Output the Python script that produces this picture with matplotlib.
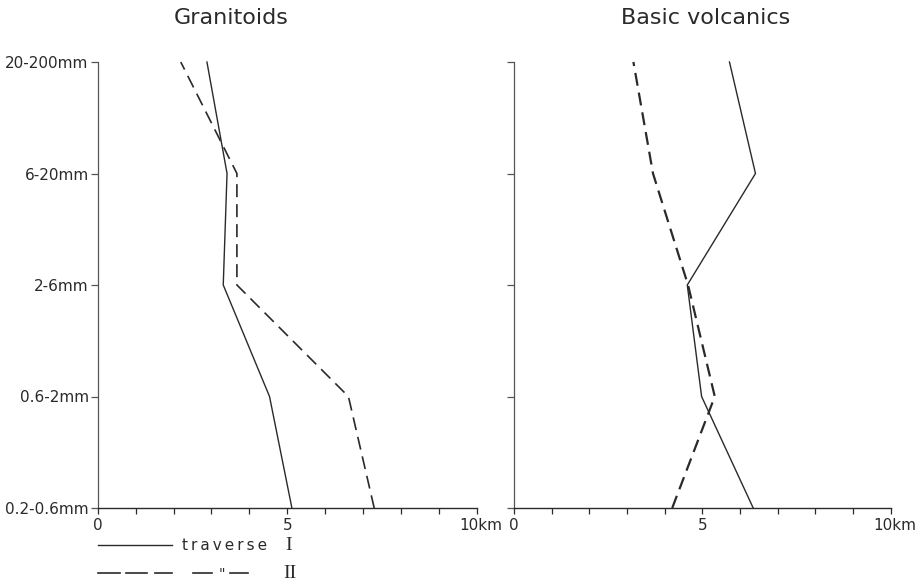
import matplotlib
matplotlib.use("Agg")
import matplotlib.pyplot as plt
from matplotlib.lines import Line2D

# grain-size classes, bottom to top
size_classes = ["0.2-0.6mm", "0.6-2mm", "2-6mm", "6-20mm", "20-200mm"]
levels = list(range(len(size_classes)))

# distance of transport (km) for each size class
granitoids_trav1 = [5.12, 4.53, 3.31, 3.41, 2.88]
granitoids_trav2 = [7.29, 6.61, 3.67, 3.67, 2.19]
volcanics_trav1 = [6.35, 4.98, 4.60, 6.41, 5.72]
volcanics_trav2 = [4.20, 5.33, 4.62, 3.69, 3.17]

panel_titles = ["Granitoids", "Basic volcanics"]

ink = "#2a2a2a"
plt.rcParams["font.family"] = ["DejaVu Sans"]

W, H = 924, 582
fig = plt.figure(figsize=(W / 100, H / 100), dpi=100)
fig.patch.set_facecolor("white")


def fx(px):
    return px / W


def fy(py):
    return 1 - py / H


axes_px = [(97.7, 477.0), (514.0, 890.7)]
top_px, bot_px = 62.0, 508.0

panels = [
    (granitoids_trav1, granitoids_trav2, 1.0, 1.2),
    (volcanics_trav1, volcanics_trav2, 1.0, 1.6),
]

for i, ((x0, x1), (s1, s2, lw1, lw2)) in enumerate(zip(axes_px, panels)):
    ax = fig.add_axes([fx(x0), fy(bot_px), fx(x1 - x0), (bot_px - top_px) / H])
    ax.set_xlim(0, 10)
    ax.set_ylim(0, len(size_classes) - 1)
    for side in ("top", "right"):
        ax.spines[side].set_visible(False)
    ax.spines["left"].set_color("#555555")
    ax.spines["left"].set_linewidth(0.9)
    ax.spines["bottom"].set_color(ink)
    ax.spines["bottom"].set_linewidth(1.0)

    ax.plot(s1, levels, color=ink, lw=lw1, clip_on=False, solid_joinstyle="miter")
    on, off = 13 * 0.72 / lw2, 7 * 0.72 / lw2
    ax.plot(s2, levels, color=ink, lw=lw2, clip_on=False, dashes=(on, off))

    ax.set_xticks([0, 5])
    ax.set_xticklabels(["0", "5"])
    ax.set_xticks(range(0, 11), minor=True)
    ax.tick_params(axis="x", which="both", direction="out", length=4.3,
                   width=0.9, color=ink, pad=3, labelsize=11, labelcolor=ink)
    ax.annotate("10km", xy=(10, 0), xycoords=("data", "axes fraction"),
                xytext=(-12.5, -7.4), textcoords="offset points",
                ha="left", va="top", fontsize=11, color=ink)

    ax.set_yticks(levels)
    if i == 0:
        ax.set_yticklabels(size_classes)
    else:
        ax.set_yticklabels([])
    ax.tick_params(axis="y", direction="out", length=5, width=0.9,
                   color="#555555", pad=1.5, labelsize=11, labelcolor=ink)

# panel titles
fig.text(fx(231), fy(18), panel_titles[0], ha="center", va="center",
         fontsize=16, color=ink)
fig.text(fx(706), fy(18), panel_titles[1], ha="center", va="center",
         fontsize=16, color=ink)

# key below the left panel
y1, y2 = fy(545), fy(573)
fig.add_artist(Line2D([fx(98), fx(172)], [y1, y1], color=ink, lw=1.0))
fig.text(fx(182), y1, "t\u2009r\u2009a\u2009v\u2009e\u2009r\u2009s\u2009e",
         ha="left", va="center", fontsize=11, color=ink)
fig.text(fx(289), y1, "I", ha="center", va="center", fontsize=14,
         color=ink, family=["Liberation Serif"])

for a, b in [(98, 120), (126, 147), (155, 172), (193, 212), (230, 248)]:
    fig.add_artist(Line2D([fx(a), fx(b)], [y2, y2], color=ink, lw=1.2))
fig.text(fx(222), fy(578), '"', ha="center", va="baseline",
         fontsize=10, color=ink)
fig.text(fx(290), y2, "II", ha="center", va="center", fontsize=14,
         color=ink, family=["Liberation Serif"])

fig.savefig("out.png", dpi=100, facecolor="white")
